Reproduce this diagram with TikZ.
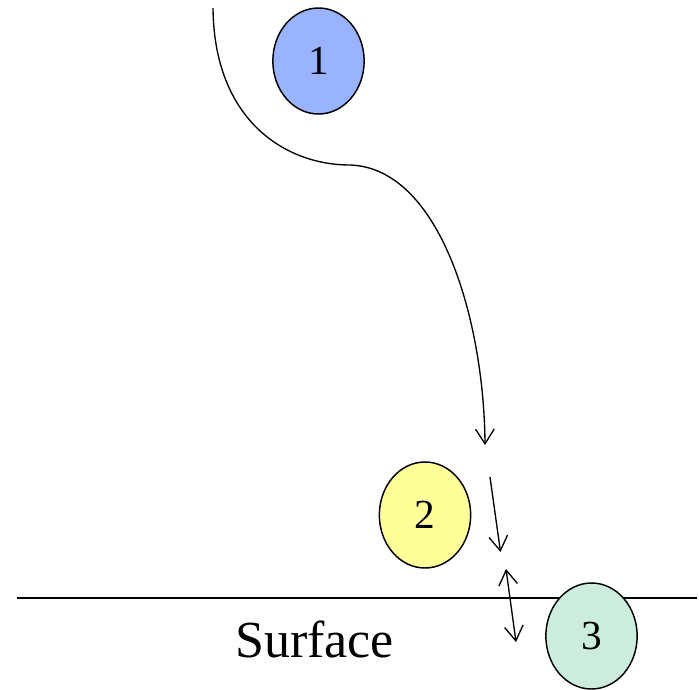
\documentclass[tikz,border=0pt]{standalone}
\usepackage{fontspec}
\setmainfont{Liberation Serif}
\usepackage{tikz}
\usetikzlibrary{arrows.meta,positioning,shapes.geometric}
\definecolor{blueball}{RGB}{153,179,255}
\definecolor{yellowball}{RGB}{255,255,153}
\definecolor{greenball}{RGB}{204,236,221}

\begin{document}
\begin{tikzpicture}[x=0.75pt,y=-0.75pt,line width=1pt,
    ball/.style={ellipse,draw=black,line width=1.1pt,inner sep=0pt,
      minimum width=68.5pt,minimum height=79.5pt,font=\fontsize{31}{31}\selectfont},
    flow/.style={-{Straight Barb[length=11pt,width=14pt,line width=1pt]}},
    bounce/.style={{Straight Barb[length=11pt,width=14pt,line width=1pt]}-{Straight Barb[length=11pt,width=14pt,line width=1pt]}}]
      \useasboundingbox (0,0) rectangle (699,689);
      % the three particles
      \node[ball,fill=blueball] (p1) at (318.5,61) {1};
      \node[ball,fill=yellowball] (p2) at (425,515) {2};
      % surface line
      \coordinate (sl) at (17,598);
      \coordinate (sr) at (697,598);
      \draw (sl) -- (sr);
      \node[ball,fill=greenball] (p3) at (591.5,636) {3};
      \node[anchor=base,font=\fontsize{39}{39}\selectfont] (surf) at (314.5,657) {Surface};
      % trajectory
      \coordinate (start) at (213,8);
      \coordinate (mid) at (350,165);
      \coordinate (tip) at (485,445);
      \draw[flow] (start) .. controls (214,120) and (285,165) .. (mid)
        .. controls (440,168) and (484,320) .. (tip);
      \coordinate (a1) at (490,477);
      \coordinate (a2) at (500.5,552);
      \draw[flow] (a1) -- (a2);
      \coordinate (b1) at (506,569);
      \coordinate (b2) at (516,642);
      \draw[bounce] (b1) -- (b2);
    \end{tikzpicture}
\end{document}
